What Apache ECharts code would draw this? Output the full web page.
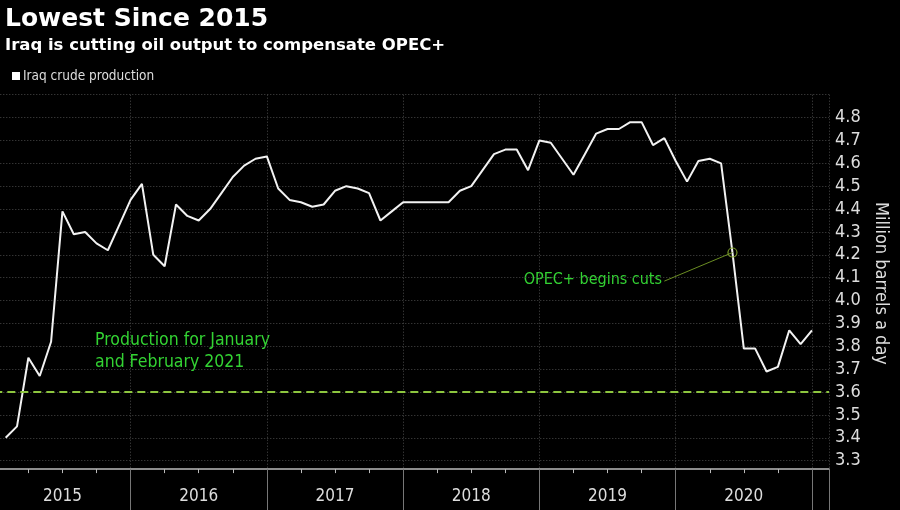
<!DOCTYPE html>
<html>
<head>
<meta charset="utf-8">
<title>Lowest Since 2015</title>
<script src="https://cdn.jsdelivr.net/npm/echarts@6/dist/echarts.min.js"></script>
<style>
    html, body { margin: 0; padding: 0; background: #000; }
    #chart { width: 900px; height: 510px; }
</style>
</head>
<body>
<div id="chart"></div>
<script>
// 年份标签
var years = ['2015', '2016', '2017', '2018', '2019', '2020'];
// 伊拉克原油产量(百万桶/日),每月一个值
var prod2015 = [3.40, 3.45, 3.75, 3.67, 3.82, 4.39, 4.29, 4.30, 4.25, 4.22, 4.33, 4.44];
var prod2016 = [4.51, 4.20, 4.15, 4.42, 4.37, 4.35, 4.40, 4.47, 4.54, 4.59, 4.62, 4.63];
var prod2017 = [4.49, 4.44, 4.43, 4.41, 4.42, 4.48, 4.50, 4.49, 4.47, 4.35, 4.39, 4.43];
var prod2018 = [4.43, 4.43, 4.43, 4.43, 4.48, 4.50, 4.57, 4.64, 4.66, 4.66, 4.57, 4.70];
var prod2019 = [4.69, 4.62, 4.55, 4.64, 4.73, 4.75, 4.75, 4.78, 4.78, 4.68, 4.71, 4.61];
var prod2020 = [4.52, 4.61, 4.62, 4.60, 4.21, 3.79, 3.79, 3.69, 3.71, 3.87, 3.81, 3.87];
// 2021年1-2月产量参考线
var janFeb2021 = 3.60;

var narrow = "'Liberation Sans Narrow', 'DejaVu Sans Condensed', sans-serif";
var green = '#33d333';

// 月末为点:第 n 个月画在 x = n
var seriesData = [];
[prod2015, prod2016, prod2017, prod2018, prod2019, prod2020].forEach(function (list, y) {
    for (var i = 0; i < list.length; i++) {
        seriesData.push([y * 12 + i + 1, list[i]]);
    }
});
// OPEC+ 开始减产:2020年5月
var cutMonth = 5 * 12 + 5;
var cutValue = prod2020[4];

var myChart = echarts.init(document.getElementById('chart'));
var option = {
    backgroundColor: '#000',
    animation: false,
    title: [{
        text: 'Lowest Since 2015',
        left: 5,
        top: 7,
        padding: 0,
        textStyle: { color: '#fff', fontSize: 25, fontWeight: 'bold', fontFamily: 'DejaVu Sans' }
    }, {
        text: 'Iraq is cutting oil output to compensate OPEC+',
        left: 5,
        top: 37,
        padding: 0,
        textStyle: { color: '#fff', fontSize: 16.5, fontWeight: 'bold', fontFamily: 'DejaVu Sans' }
    }],
    legend: {
        left: 7,
        top: 64,
        icon: 'rect',
        itemWidth: 8,
        itemHeight: 8,
        itemGap: 4,
        textStyle: { color: '#ddd', fontSize: 13.5, fontFamily: narrow, padding: [0, 0, 0, -2] },
        data: ['Iraq crude production']
    },
    grid: {
        left: -5.7,
        right: 71,
        top: 94.7,
        bottom: 37.9,
        outerBoundsMode: 'none',
        containLabel: false
    },
    xAxis: [{
        type: 'value',
        position: 'bottom',
        min: 0,
        max: 73.5,
        interval: 3,
        offset: -3,
        axisLine: { show: true, lineStyle: { color: '#bbb', width: 1.5 } },
        axisTick: { show: true, length: 4, lineStyle: { color: '#bbb' } },
        axisLabel: {
            color: '#ddd',
            fontSize: 17,
            fontFamily: narrow,
            margin: 19,
            showMinLabel: true,
            showMaxLabel: true,
            formatter: function (v) {
                return v % 12 === 6 ? years[(v - 6) / 12] : '';
            }
        },
        splitLine: { show: false }
    }, {
        type: 'value',
        position: 'bottom',
        min: 0,
        max: 73.5,
        interval: 12,
        offset: -3,
        axisLine: { show: false },
        axisTick: { show: true, length: 42, lineStyle: { color: '#777' } },
        axisLabel: { show: false },
        splitLine: { show: true, lineStyle: { color: '#4a4a4a', type: [1, 2] } }
    }],
    yAxis: {
        type: 'value',
        position: 'right',
        min: 3.25,
        max: 4.9,
        interval: 0.05,
        name: 'Million barrels a day',
        nameLocation: 'middle',
        nameRotate: -90,
        nameGap: 40,
        nameTextStyle: { color: '#ddd', fontSize: 18, fontFamily: narrow },
        axisLine: { show: true, lineStyle: { color: '#bbb', width: 1.5 } },
        axisTick: { show: true, length: 4, lineStyle: { color: '#bbb' } },
        axisLabel: {
            color: '#ddd',
            fontSize: 18,
            fontFamily: narrow,
            margin: 6,
            formatter: function (v) {
                var k = Math.round(v * 100);
                if (k % 10 !== 0 || k > 480) return '';
                return (k / 100).toFixed(1);
            }
        },
        splitLine: {
            show: true,
            lineStyle: { color: ['rgba(0,0,0,0)', '#4a4a4a'], type: [1, 2] }
        }
    },
    series: [{
        name: 'Iraq crude production',
        type: 'line',
        xAxisIndex: 0,
        showSymbol: false,
        symbol: 'none',
        itemStyle: { color: '#fff' },
        lineStyle: { color: '#f2f2f2', width: 2 },
        data: seriesData,
        markLine: {
            silent: true,
            symbol: 'none',
            label: { show: false },
            data: [
                { yAxis: janFeb2021, lineStyle: { color: '#8dc63f', width: 2, type: [8, 5] } },
                [
                    { coord: [59.0, 4.085], lineStyle: { color: '#6b8e23', width: 1, type: 'solid' } },
                    { coord: [cutMonth, cutValue] }
                ]
            ]
        },
        markPoint: {
            silent: true,
            symbol: 'circle',
            symbolSize: 9,
            label: { show: false },
            itemStyle: { color: 'rgba(0,0,0,0)', borderColor: '#7a9a2a', borderWidth: 1.2 },
            data: [{ coord: [cutMonth, cutValue] }]
        }
    }],
    graphic: [{
        type: 'text',
        left: 95,
        top: 329,
        style: {
            text: 'Production for January\nand February 2021',
            fill: green,
            font: '17.5px ' + narrow,
            lineHeight: 22
        }
    }, {
        type: 'text',
        right: 238,
        top: 272,
        style: {
            text: 'OPEC+ begins cuts',
            fill: green,
            font: '16px ' + narrow
        }
    }]
};
myChart.setOption(option);
</script>
</body>
</html>
